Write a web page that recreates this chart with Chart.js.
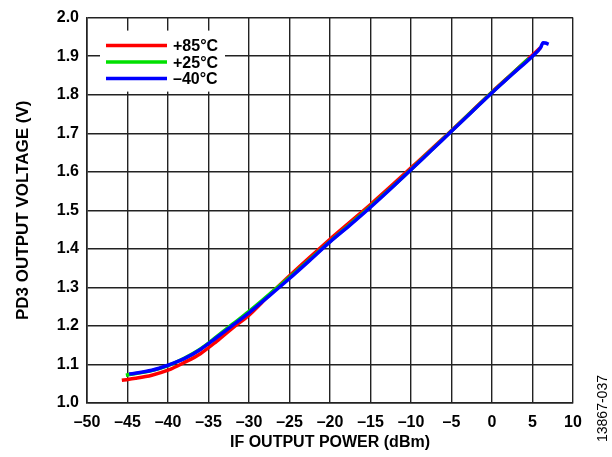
<!DOCTYPE html>
<html>
<head>
<meta charset="utf-8">
<script src="https://cdn.jsdelivr.net/npm/chart.js@4.4.1/dist/chart.umd.min.js"></script>
<style>
html,body{margin:0;padding:0;background:#fff;}
#wrap{position:relative;width:612px;height:457px;}
#note{position:absolute;left:594px;top:442px;transform-origin:0 0;transform:rotate(-90deg);font:14px "Liberation Sans",Arial,sans-serif;color:#000;white-space:nowrap;}
</style>
</head>
<body>
<div id="wrap"><canvas id="c" width="612" height="457"></canvas><div id="note">13867-037</div></div>
<script>
const seriesNames = ['+85°C', '+25°C', '\u201340°C'];
const seriesColors = ['#ff0000', '#00e000', '#0000ff'];

const red85X = [-45.7, -44, -42, -40, -38, -36, -34, -32, -30, -27.5, -25, -22.5, -20, -17.5, -15, -12.5, -10, -7.5, -5, -2.5, 0, 2.5, 5, 6];
const red85Y = [1.059, 1.064, 1.072, 1.085, 1.105, 1.128, 1.160, 1.195, 1.228, 1.280, 1.330, 1.378, 1.425, 1.470, 1.515, 1.562, 1.610, 1.658, 1.707, 1.757, 1.807, 1.855, 1.903, 1.922];

const green25X = [-45.2, -42, -40, -38, -36, -34, -32, -30, -27.5, -25, -22.5, -20, -17.5, -15, -12.5, -10, -7.5, -5, -2.5, 0, 2.5, 4.5];
const green25Y = [1.072, 1.084, 1.097, 1.116, 1.140, 1.172, 1.205, 1.238, 1.282, 1.326, 1.372, 1.419, 1.464, 1.510, 1.557, 1.606, 1.656, 1.706, 1.756, 1.806, 1.854, 1.893];

const blue40X = [-44.8, -42, -40, -38, -36, -34, -32, -30, -27.5, -25, -22.5, -20, -17.5, -15, -12.5, -10, -7.5, -5, -2.5, 0, 2.5, 5, 6, 6.3, 6.6, 7];
const blue40Y = [1.075, 1.085, 1.098, 1.115, 1.139, 1.170, 1.202, 1.234, 1.278, 1.323, 1.370, 1.418, 1.462, 1.508, 1.556, 1.605, 1.655, 1.705, 1.755, 1.805, 1.853, 1.900, 1.922, 1.935, 1.934, 1.931];

const xTicks = [-50, -45, -40, -35, -30, -25, -20, -15, -10, -5, 0, 5, 10];
const yTicks = [1.0, 1.1, 1.2, 1.3, 1.4, 1.5, 1.6, 1.7, 1.8, 1.9, 2.0];

const FONT = '"Liberation Sans", Arial, sans-serif';
const pts = (xs, ys) => xs.map((x, i) => ({x: x, y: ys[i]}));

const datasets = [
  {label: seriesNames[0], data: pts(red85X, red85Y), borderColor: seriesColors[0], order: 3},
  {label: seriesNames[1], data: pts(green25X, green25Y), borderColor: seriesColors[1], order: 2},
  {label: seriesNames[2], data: pts(blue40X, blue40Y), borderColor: seriesColors[2], order: 1}
].map(d => Object.assign(d, {borderWidth: 3.5, pointRadius: 0, fill: false, tension: 0.3, cubicInterpolationMode: 'monotone', borderCapStyle: 'butt', borderJoinStyle: 'round'}));

const legendBox = {
  id: 'legendBox',
  beforeDatasetsDraw(chart) {
    const ctx = chart.ctx, a = chart.chartArea;
    ctx.save();
    ctx.fillStyle = '#fff';
    ctx.fillRect(a.left + 13, a.top + 13, 125, 61);
    ctx.font = 'bold 16px ' + FONT;
    ctx.textBaseline = 'middle';
    ctx.textAlign = 'left';
    seriesNames.forEach((n, i) => {
      const y = a.top + 28 + i * 16.5;
      ctx.strokeStyle = seriesColors[i];
      ctx.lineWidth = 3.5;
      ctx.beginPath();
      ctx.moveTo(a.left + 19, y);
      ctx.lineTo(a.left + 80, y);
      ctx.stroke();
      ctx.fillStyle = '#000';
      ctx.fillText(n, a.left + 86, y + 1);
    });
    ctx.restore();
  }
};

new Chart(document.getElementById('c'), {
  type: 'line',
  data: {datasets: datasets},
  options: {
    responsive: false,
    animation: false,
    layout: {padding: {top: 14, right: 39, left: 0, bottom: 0}},
    plugins: {legend: {display: false}, tooltip: {enabled: false}},
    scales: {
      x: {
        type: 'linear', min: -50, max: 10,
        afterBuildTicks: s => { s.ticks = xTicks.map(v => ({value: v})); },
        afterFit: s => { s.height = 54; },
        grid: {color: '#222', lineWidth: 1.4, drawTicks: false},
        border: {color: '#222', width: 1.6},
        ticks: {color: '#000', padding: 10, font: {family: FONT, size: 16, weight: 'bold'}, maxRotation: 0,
          callback: v => (v < 0 ? '\u2013' + Math.abs(v) : String(v))},
        title: {display: true, text: 'IF OUTPUT POWER (dBm)', color: '#000', padding: {top: 0, bottom: 5}, font: {family: FONT, size: 16, weight: 'bold'}}
      },
      y: {
        type: 'linear', min: 1.0, max: 2.0,
        afterBuildTicks: s => { s.ticks = yTicks.map(v => ({value: v})); },
        afterFit: s => { s.width = 87; },
        grid: {color: '#222', lineWidth: 1.4, drawTicks: false},
        border: {color: '#222', width: 1.6},
        ticks: {color: '#000', padding: 8, font: {family: FONT, size: 16, weight: 'bold'}, callback: v => Number(v).toFixed(1)},
        title: {display: true, text: 'PD3 OUTPUT VOLTAGE (V)', color: '#000', padding: {top: 13, bottom: 0}, font: {family: FONT, size: 17, weight: 'bold'}}
      }
    }
  },
  plugins: [legendBox]
});
</script>
</body>
</html>
